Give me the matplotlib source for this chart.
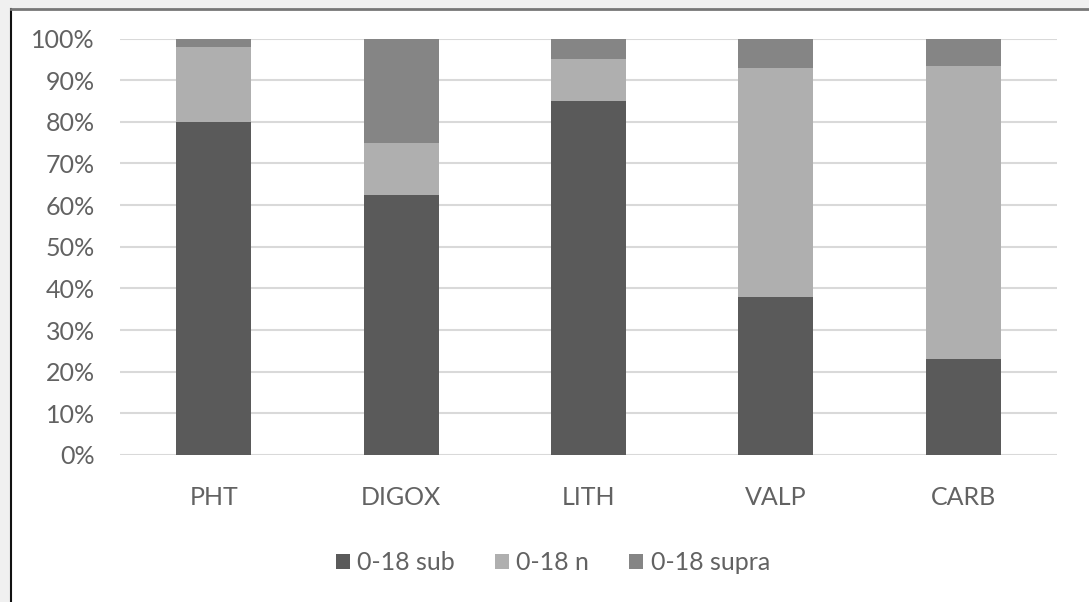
import numpy as np
import matplotlib.pyplot as plt
from matplotlib.patches import Patch, Rectangle
from matplotlib.ticker import PercentFormatter

drugs = ['PHT', 'DIGOX', 'LITH', 'VALP', 'CARB']
series = ['0-18 sub', '0-18 n', '0-18 supra']
sub = [80, 62.5, 85, 38, 23]
normal = [18, 12.5, 10, 55, 70.5]
supra = [2, 25, 5, 7, 6.5]
colors = ['#5a5a5a', '#afafaf', '#858585']

plt.rcParams['font.family'] = ['Lato', 'DejaVu Sans']

fig = plt.figure(figsize=(10.89, 6.02), dpi=100, facecolor='#f0f0f0')

# white chart panel with dark left / top border
fig.patches.append(Rectangle((11 / 1089, 0), 1, 1 - 9 / 602, transform=fig.transFigure,
                             facecolor='white', edgecolor='none', zorder=-1))
fig.add_artist(plt.Line2D([11 / 1089, 11 / 1089], [0, 1 - 9 / 602], transform=fig.transFigure,
                          color='#111111', lw=1.5))
fig.add_artist(plt.Line2D([11 / 1089, 1], [1 - 9 / 602, 1 - 9 / 602], transform=fig.transFigure,
                          color='#777777', lw=2))

ax = fig.add_axes([120 / 1089, 1 - 455 / 602, 937 / 1089, (455 - 38.5) / 602])
ax.set_facecolor('white')

x = np.arange(len(drugs))
data = [np.array(sub), np.array(normal), np.array(supra)]
tot = np.array(sub) + np.array(normal) + np.array(supra)
bottom = np.zeros(len(drugs))
for vals, c, name in zip(data, colors, series):
    frac = vals / tot
    ax.bar(x, frac, 0.4, bottom=bottom, color=c, label=name, zorder=3)
    bottom += frac

ax.set_xlim(-0.5, len(drugs) - 0.5)
ax.set_ylim(0, 1)
ax.set_yticks(np.arange(0, 1.01, 0.1))
ax.yaxis.set_major_formatter(PercentFormatter(1.0, decimals=0))
ax.set_xticks(x)
ax.set_xticklabels(drugs)
ax.grid(axis='y', color='#d9d9d9', lw=1.5, zorder=0)
for s in ax.spines.values():
    s.set_visible(False)
ax.tick_params(length=0, labelsize=18, colors='#626262')
ax.tick_params(axis='x', pad=22)
ax.tick_params(axis='y', pad=18)

handles = [Patch(facecolor=c, label=n) for c, n in zip(colors, series)]
fig.legend(handles=handles, loc='center', bbox_to_anchor=(553 / 1089, 1 - 563 / 602),
           ncol=3, frameon=False, fontsize=18, labelcolor='#626262',
           handlelength=0.55, handleheight=0.55, handletextpad=0.3, columnspacing=1.6)

fig.savefig('out.png', dpi=100, facecolor=fig.get_facecolor())
